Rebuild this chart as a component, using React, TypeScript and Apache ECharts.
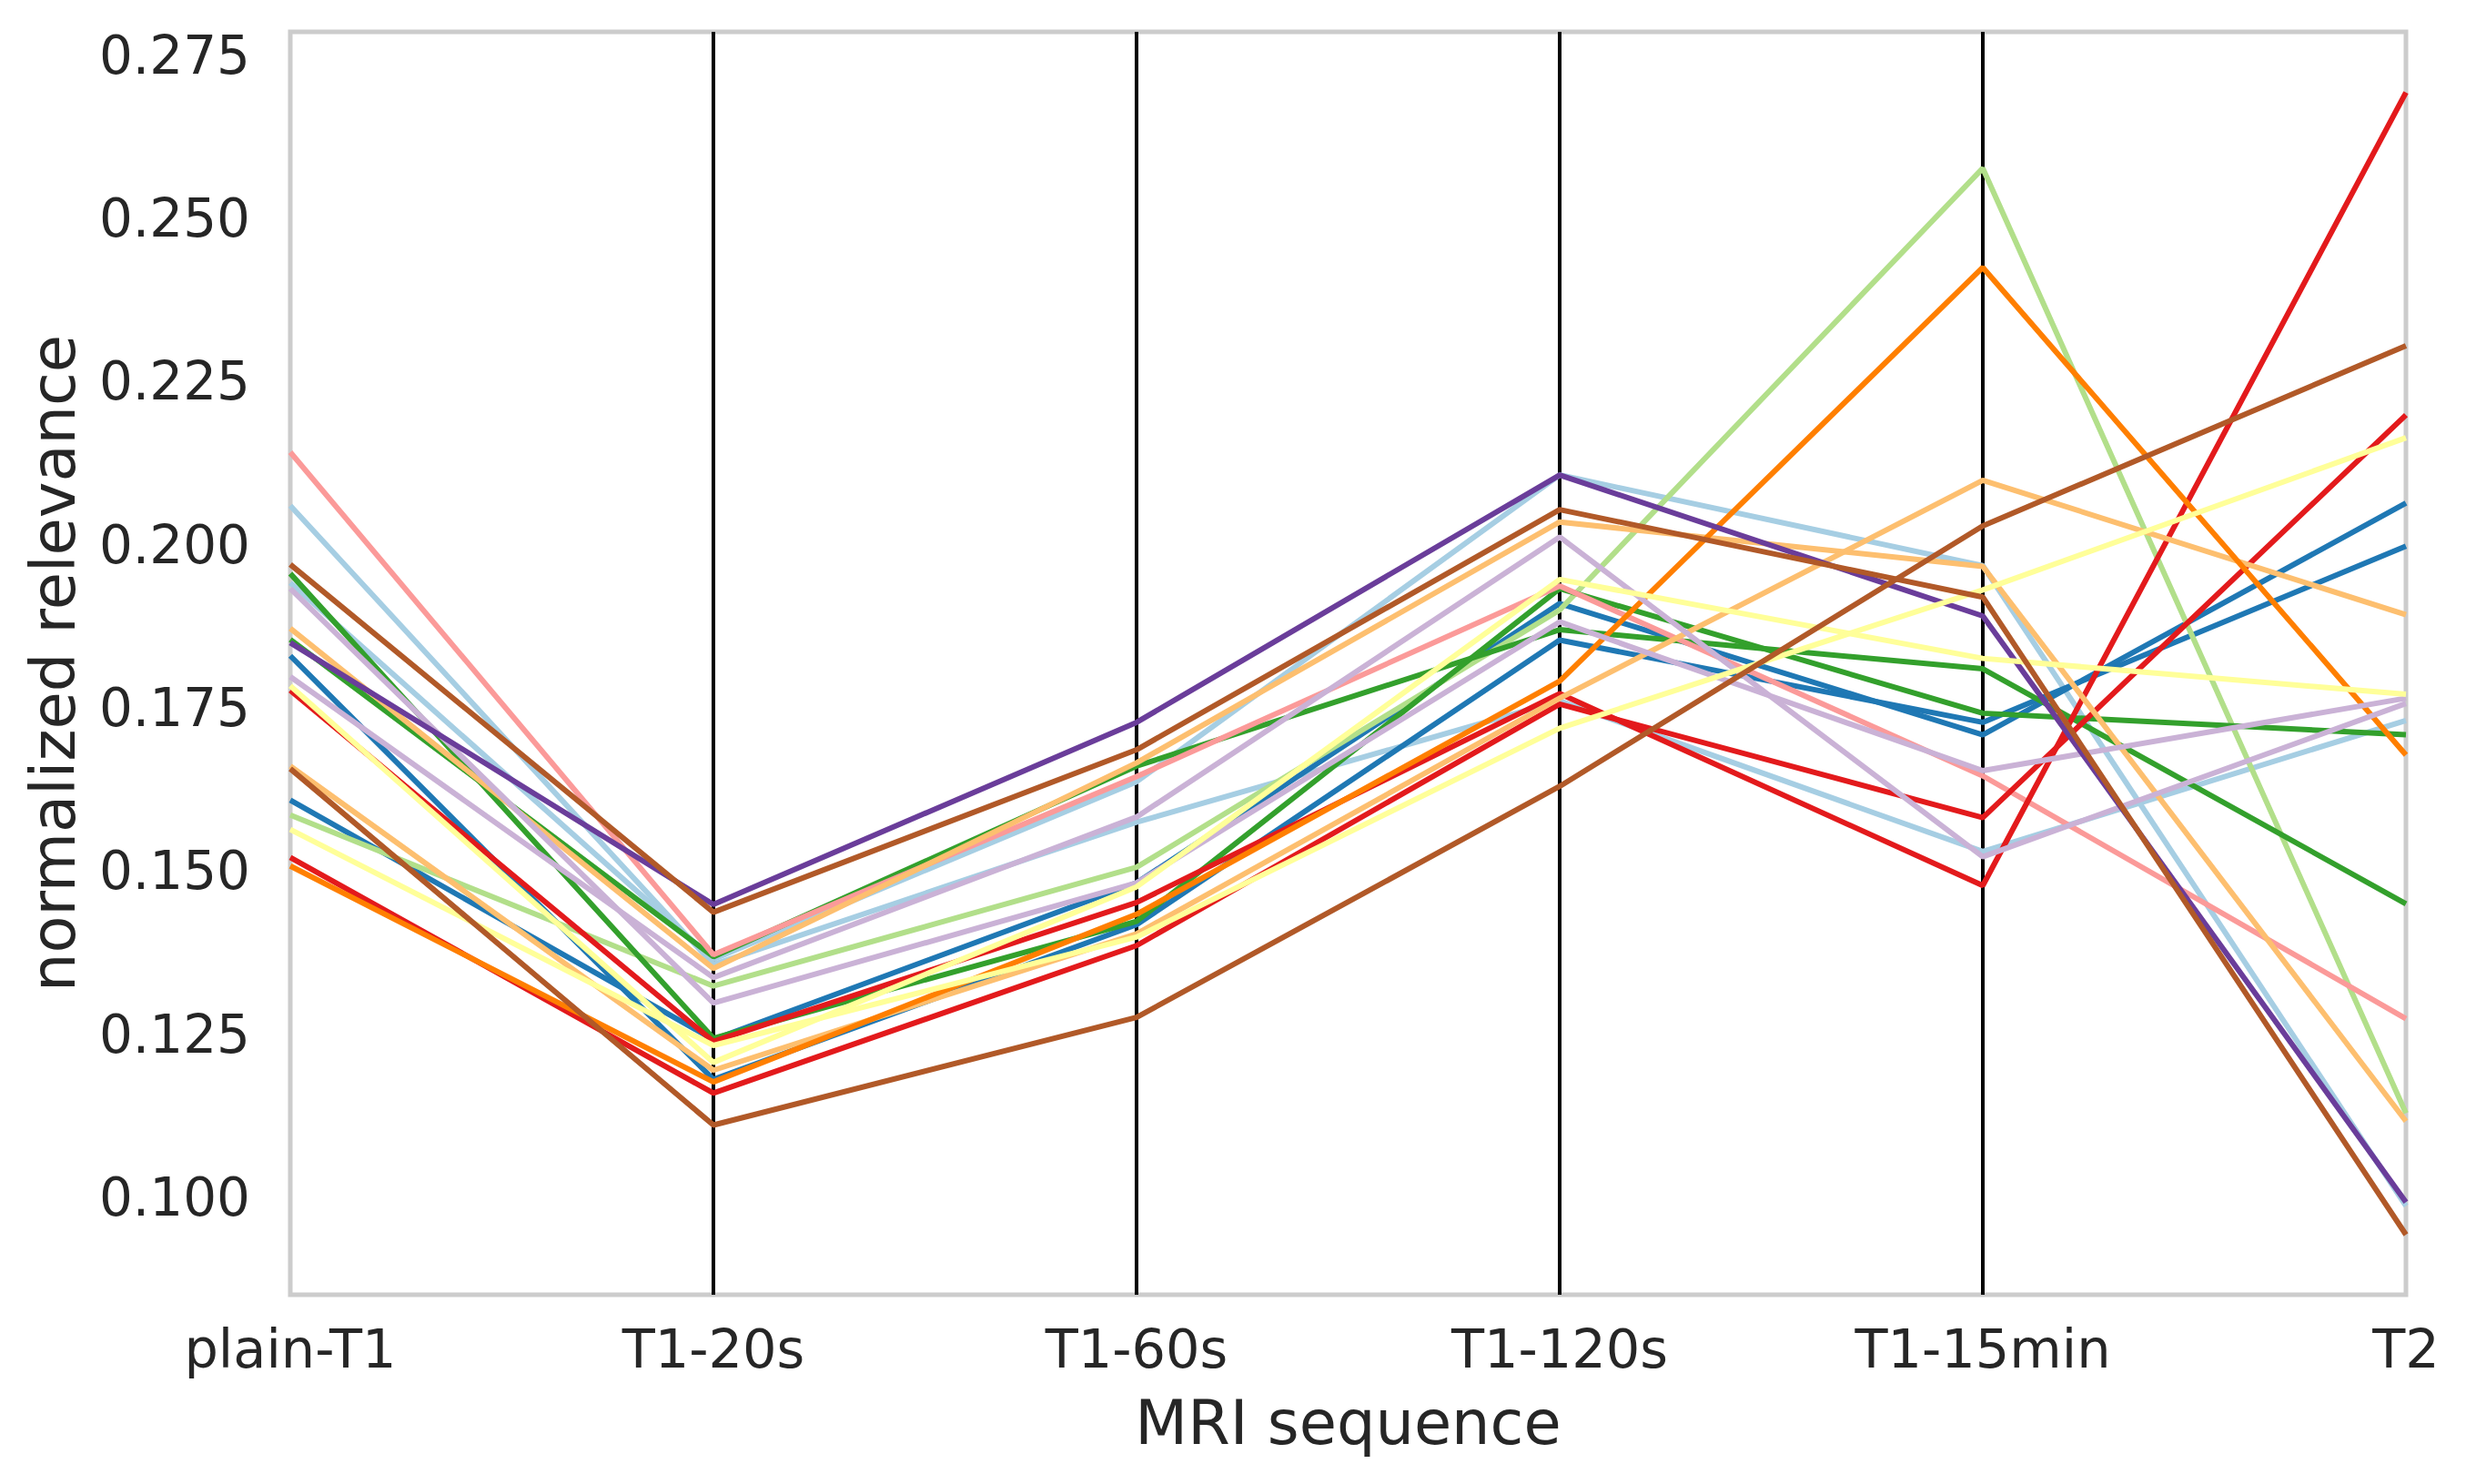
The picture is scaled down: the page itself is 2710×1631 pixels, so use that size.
import React, { useEffect, useRef } from "react";
import * as echarts from "echarts";

const categories = ["plain-T1", "T1-20s", "T1-60s", "T1-120s", "T1-15min", "T2"];
const yTickValues = [0.1, 0.125, 0.15, 0.175, 0.2, 0.225, 0.25, 0.275];

// Paired colormap sampled for 20 classes
const lineColors = [
  "#a6cee3", "#a6cee3", "#1f78b4", "#1f78b4", "#b2df8a", "#33a02c", "#33a02c",
  "#fb9a99", "#e31a1c", "#e31a1c", "#fdbf6f", "#fdbf6f", "#ff7f00", "#cab2d6",
  "#cab2d6", "#6a3d9a", "#ffff99", "#ffff99", "#b15928", "#b15928",
];

const lightBlue1 = [0.2060, 0.1357, 0.1575, 0.1761, 0.1530, 0.1731];
const lightBlue2 = [0.1942, 0.1365, 0.1637, 0.2107, 0.1968, 0.0987];
const blue1 = [0.1830, 0.1181, 0.1418, 0.1854, 0.1728, 0.1998];
const blue2 = [0.1609, 0.1242, 0.1482, 0.1910, 0.1709, 0.2064];
const lightGreen1 = [0.1586, 0.1324, 0.1506, 0.1900, 0.2577, 0.1129];
const green1 = [0.1855, 0.1369, 0.1661, 0.1870, 0.1810, 0.1450];
const green2 = [0.1956, 0.1244, 0.1423, 0.1933, 0.1742, 0.1709];
const pink1 = [0.2142, 0.1372, 0.1645, 0.1937, 0.1646, 0.1274];
const red1 = [0.1777, 0.1239, 0.1452, 0.1772, 0.1478, 0.2693];
const red2 = [0.1521, 0.1160, 0.1386, 0.1756, 0.1582, 0.2199];
const lightOrange1 = [0.1872, 0.1351, 0.1666, 0.2035, 0.1967, 0.1117];
const lightOrange2 = [0.1661, 0.1195, 0.1404, 0.1765, 0.2099, 0.1893];
const orange1 = [0.1508, 0.1177, 0.1434, 0.1791, 0.2425, 0.1678];
const lightPurple1 = [0.1933, 0.1298, 0.1482, 0.1882, 0.1654, 0.1765];
const lightPurple2 = [0.1798, 0.1337, 0.1583, 0.2012, 0.1522, 0.1757];
const purple1 = [0.1850, 0.1449, 0.1728, 0.2107, 0.1891, 0.0993];
const yellow1 = [0.1784, 0.1207, 0.1476, 0.1947, 0.1826, 0.1771];
const yellow2 = [0.1564, 0.1233, 0.1399, 0.1719, 0.1931, 0.2164];
const brown1 = [0.1970, 0.1437, 0.1686, 0.2054, 0.1920, 0.0943];
const brown2 = [0.1657, 0.1111, 0.1276, 0.1630, 0.2029, 0.2305];

const seriesValues = [
  lightBlue1, lightBlue2, blue1, blue2, lightGreen1, green1, green2, pink1,
  red1, red2, lightOrange1, lightOrange2, orange1, lightPurple1, lightPurple2,
  purple1, yellow1, yellow2, brown1, brown2,
];

const TEXT = "#262626";
const FONT = "DejaVu Sans";

export default function App() {
  const ref = useRef<HTMLDivElement>(null);

  useEffect(() => {
    if (!ref.current) return;
    const chart = echarts.init(ref.current, null, { renderer: "svg" });
    chart.setOption({
      animation: false,
      backgroundColor: "#ffffff",
      grid: {
        left: 319,
        right: 66,
        top: 35,
        bottom: 208,
        show: true,
        borderColor: "#cccccc",
        borderWidth: 5,
        backgroundColor: "transparent",
      },
      xAxis: {
        type: "category",
        data: categories,
        boundaryGap: false,
        axisLine: { show: false },
        axisTick: { show: false },
        axisLabel: {
          color: TEXT,
          fontFamily: FONT,
          fontSize: 59,
          margin: 30,
          interval: 0,
        },
        splitLine: {
          show: true,
          interval: (index: number) => index !== 0 && index !== categories.length - 1,
          lineStyle: { color: "#000000", width: 4 },
        },
        name: "MRI sequence",
        nameLocation: "middle",
        nameGap: 107,
        nameTextStyle: { color: TEXT, fontFamily: FONT, fontSize: 67 },
      },
      yAxis: {
        type: "value",
        min: 0.0851,
        max: 0.2786,
        axisLine: { show: false },
        axisTick: { show: false },
        splitLine: { show: false },
        axisLabel: {
          color: TEXT,
          fontFamily: FONT,
          fontSize: 58,
          margin: 44,
          customValues: yTickValues,
          formatter: (v: number) => v.toFixed(3),
        },
        name: "normalized relevance",
        nameLocation: "middle",
        nameGap: 227,
        nameTextStyle: { color: TEXT, fontFamily: FONT, fontSize: 67 },
      },
      series: seriesValues.map((vals, i) => ({
        type: "line",
        data: vals,
        symbol: "none",
        silent: true,
        z: 2 + i * 0.01,
        lineStyle: { color: lineColors[i], width: 6 },
      })),
    });
    return () => chart.dispose();
  }, []);

  return (
    <div
      ref={ref}
      style={{ position: "absolute", left: 0, top: 0, width: 2710, height: 1631 }}
    />
  );
}
